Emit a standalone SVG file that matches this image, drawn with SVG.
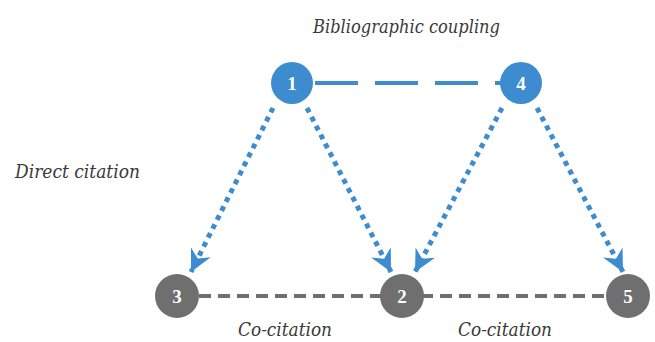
<svg xmlns="http://www.w3.org/2000/svg" width="655" height="342" viewBox="0 0 655 342">
<style>
.lbl{font-family:"DejaVu Serif","Liberation Serif",serif;font-style:italic;font-size:18px;fill:#3a3a3a}
.num{font-family:"Liberation Serif","Times New Roman",serif;font-weight:bold;font-size:19px;fill:#ffffff;text-anchor:middle}
.blue{fill:#3d8ccf}
.gray{fill:#6f6f6f}
.dot{stroke:#3d8ccf;stroke-width:5;stroke-dasharray:5 5;fill:none}
</style>
<defs>
<marker id="ah" markerUnits="userSpaceOnUse" markerWidth="24" markerHeight="22" refX="22" refY="11" orient="auto">
<path d="M0,0 L22,11 L0,22 L7,11 Z" fill="#3d8ccf"/>
</marker>
</defs>
<g id="connectors">
<line x1="311" y1="83" x2="502" y2="83" stroke="#3d8ccf" stroke-width="4" stroke-dasharray="43 17" stroke-dashoffset="-4"/>
<line x1="199" y1="296" x2="384" y2="296" stroke="#6f6f6f" stroke-width="4" stroke-dasharray="12 7"/>
<line x1="421" y1="296" x2="609" y2="296" stroke="#6f6f6f" stroke-width="4" stroke-dasharray="12 7"/>
<line class="dot" x1="273" y1="108" x2="191" y2="272" marker-end="url(#ah)"/>
<line class="dot" x1="307" y1="108" x2="391" y2="272" marker-end="url(#ah)"/>
<line class="dot" x1="502" y1="108" x2="415" y2="272" marker-end="url(#ah)"/>
<line class="dot" x1="537" y1="108" x2="623" y2="272" marker-end="url(#ah)"/>
</g>
<g id="node1"><circle class="blue" cx="292" cy="83" r="21"/><text class="num" x="292" y="90">1</text></g>
<g id="node4"><circle class="blue" cx="521" cy="83" r="21"/><text class="num" x="521" y="90">4</text></g>
<g id="node3"><circle class="gray" cx="177" cy="296" r="22"/><text class="num" x="177" y="303">3</text></g>
<g id="node2"><circle class="gray" cx="402" cy="296" r="22"/><text class="num" x="402" y="303">2</text></g>
<g id="node5"><circle class="gray" cx="628" cy="296" r="22"/><text class="num" x="628" y="303">5</text></g>
<text class="lbl" x="313" y="33" textLength="187" lengthAdjust="spacingAndGlyphs">Bibliographic coupling</text>
<text class="lbl" x="15" y="178" textLength="125" lengthAdjust="spacingAndGlyphs">Direct citation</text>
<text class="lbl" x="238" y="336" textLength="94" lengthAdjust="spacingAndGlyphs">Co-citation</text>
<text class="lbl" x="458" y="336" textLength="94" lengthAdjust="spacingAndGlyphs">Co-citation</text>
</svg>
